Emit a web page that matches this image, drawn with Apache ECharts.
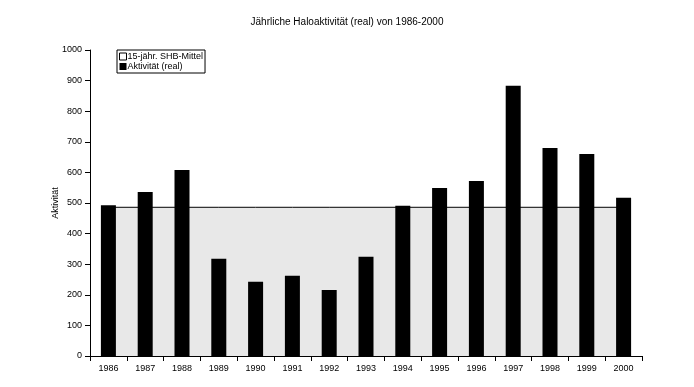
<!DOCTYPE html>
<html><head><meta charset="utf-8">
<script src="https://cdn.jsdelivr.net/npm/echarts@6/dist/echarts.min.js"></script>
<style>html,body{margin:0;padding:0;background:#fff}#c{width:694px;height:387px}</style>
</head><body><div id="c"></div>
<script>
const years = ['1986','1987','1988','1989','1990','1991','1992','1993','1994','1995','1996','1997','1998','1999','2000'];
const activity = [493, 536, 608, 318, 243, 262, 216, 324, 491, 549, 572, 883, 680, 660, 517];
const mean = [486,486,486,486,486,486,486,486,486,486,486,486,486,486,486];
const yTicks = [0,100,200,300,400,500,600,700,800,900,1000];

const font = 'Liberation Sans, Arial, sans-serif';
const chart = echarts.init(document.getElementById('c'));
chart.setOption({
  animation: false,
  backgroundColor: '#fff',
  title: {
    text: 'Jährliche Haloaktivität (real) von 1986-2000',
    left: 'center', top: 12,
    textStyle: {fontFamily: font, fontSize: 10, fontWeight: 'normal', color: '#000'}
  },
  legend: {
    orient: 'vertical', left: 117, top: 50,
    itemWidth: 7, itemHeight: 7, itemGap: 1,
    padding: [2, 2, 2, 2],
    borderColor: '#000', borderWidth: 1,
    textStyle: {fontFamily: font, fontSize: 9, color: '#000', padding: [0,0,0,-4]},
    data: [
      {name: '15-jähr. SHB-Mittel', icon: 'rect', itemStyle: {color: '#fff', borderColor: '#000', borderWidth: 1}},
      {name: 'Aktivität (real)', icon: 'rect', itemStyle: {color: '#000'}}
    ]
  },
  grid: {left: 90, right: 52, top: 50, bottom: 31},
  xAxis: {
    type: 'category', data: years, boundaryGap: true,
    axisLine: {lineStyle: {color: '#000', width: 1}},
    axisTick: {show: true, length: 5, inside: false, lineStyle: {color: '#000'}},
    axisLabel: {fontFamily: font, fontSize: 9, color: '#000', margin: 8},
    splitLine: {show: false}
  },
  yAxis: {
    type: 'value', min: 0, max: 1000, interval: 100,
    name: 'Aktivität', nameLocation: 'middle', nameGap: 30, nameRotate: 90,
    nameMoveOverlap: false,
    nameTextStyle: {fontFamily: font, fontSize: 9, color: '#000'},
    axisLine: {show: true, lineStyle: {color: '#000', width: 1}},
    axisTick: {show: true, length: 5, lineStyle: {color: '#000'}},
    axisLabel: {fontFamily: font, fontSize: 9, color: '#000', margin: 8,
      formatter: v => yTicks.includes(v) ? String(v) : ''},
    splitLine: {show: false}
  },
  series: [
    {
      name: '15-jähr. SHB-Mittel', type: 'line', data: mean, z: 2,
      symbol: 'none', lineStyle: {color: '#000', width: 1},
      itemStyle: {color: '#fff', borderColor: '#000'},
      areaStyle: {color: '#e8e8e8', opacity: 1}
    },
    {
      name: 'Aktivität (real)', type: 'bar', data: activity, z: 3,
      barWidth: 15, itemStyle: {color: '#000'}
    }
  ]
});
</script></body></html>
